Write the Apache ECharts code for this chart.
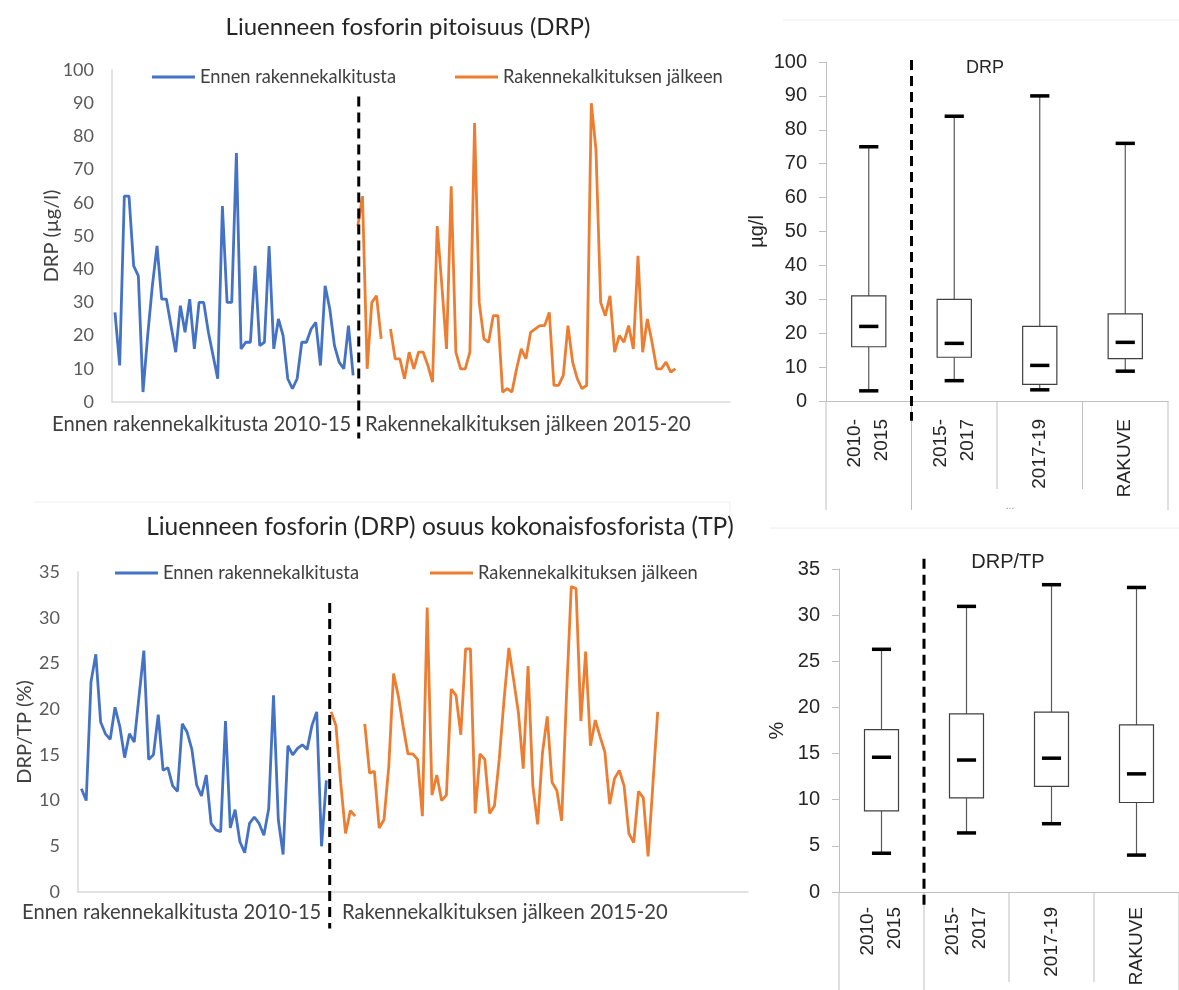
<!DOCTYPE html>
<html><head><meta charset="utf-8">
<script src="https://cdn.jsdelivr.net/npm/echarts@6/dist/echarts.min.js"></script>
<style>html,body{margin:0;padding:0;background:#fff}#c{width:1179px;height:990px}</style>
</head><body><div id="c"></div>
<script>
// ---- Data ----
const drpBefore = [27,11,62,62,41,38,3,20,35,47, 31,31,23,15,29,21,31,16,30,30, 21,14,7,59,30,30,75,16,18,18, 41,17,18,47,16,25,20,7,4,7, 18,18,22,24,11,35,28,17,12,10, 23,8];
const drpAfter = [53,62,10,30,32,19,null, 22,13,13,7,15,10,15,15,11,6, 53,35,16,65,15,10,10,15,84,30, 19,18,26,26,3,4,3,10,16,13, 21,22,23,23,27,5,5,8,23,12, 7,4,5,90,76,30,26,32,15,20, 18,23,16,44,15,25,18,10,10,12, 9,10];
const ratioBefore = [11.3,10.0,23.0,26.0,18.6,17.3,16.7,20.2,18.1,14.7, 17.3,16.4,21.4,26.4,14.5,15.0,19.4,13.3,13.6,11.6, 11.0,18.4,17.5,15.6,11.7,10.5,12.8,7.5,6.8,6.6, 18.7,7.0,9.0,5.5,4.3,7.5,8.2,7.5,6.2,9.1, 21.5,7.9,4.1,16.0,15.0,15.7,16.1,15.6,18.2,19.7, 5.0,12.2];
const ratioAfter = [19.7,18.2,11.9,6.4,8.9,8.3,null, 18.4,13.0,13.2,7.0,7.9,13.7,23.9,21.4,18.1,15.1, 15.1,14.5,8.3,31.1,10.6,12.8,10.0,10.6,22.2,21.5, 17.2,26.6,26.6,8.6,15.1,14.5,8.6,9.4,14.5,21.0, 26.7,23.2,19.6,13.5,24.7,11.6,7.4,15.2,19.2,12.0, 11.1,7.8,21.4,33.4,33.2,18.7,26.3,16.0,18.8,17.0, 15.3,9.6,12.4,13.3,11.6,6.4,5.4,11.0,10.3,3.9, 11.8,19.7];

const boxCategories = ['2010-\n2015','2015-\n2017','2017-19','RAKUVE'];
const drpMin = [3, 6, 3.3, 8.8];
const drpQ1  = [16, 12.9, 4.9, 12.5];
const drpMed = [22, 17, 10.5, 17.3];
const drpQ3  = [31, 30, 22, 25.7];
const drpMax = [75, 84, 90, 76];
const ratioMin = [4.2, 6.4, 7.4, 4.0];
const ratioQ1  = [8.8, 10.2, 11.45, 9.7];
const ratioMed = [14.6, 14.3, 14.5, 12.8];
const ratioQ3  = [17.6, 19.3, 19.5, 18.1];
const ratioMax = [26.3, 30.95, 33.3, 33.0];

const nameBefore = 'Ennen rakennekalkitusta';
const nameAfter = 'Rakennekalkituksen jälkeen';
const periodBefore = 'Ennen rakennekalkitusta 2010-15';
const periodAfter = 'Rakennekalkituksen jälkeen 2015-20';
const breakIndexTop = 52.2;     // start of the after-period (sample index)
const breakIndexBottom = 51.7;
const breakBox = 1;             // box category index after which period changes

// ---- helpers ----
const BLUE = '#4472C4', ORANGE = '#ED7D31';
const LEFT_FONT = 'Lato', RIGHT_FONT = 'Liberation Sans';
const toPairs = (vals, offset) => vals.map((v, i) => [i + offset, v]);

function dashRenderer(params, api) {
  const p1 = api.coord([api.value(0), api.value(1)]);
  const p2 = api.coord([api.value(0), api.value(2)]);
  return {type: 'line', shape: {x1: p1[0], y1: p1[1], x2: p2[0], y2: p2[1]},
    style: {stroke: '#000', lineWidth: 3, lineDash: [10, 6]}};
}

function boxRenderer(params, api) {
  const i = api.value(0);
  const band = api.size([1, 0])[0];
  const bw = band * 0.4, cw = band * 0.225;
  const P = k => api.coord([i, api.value(k)]);
  const x = P(1)[0];
  const yMin = P(1)[1], yQ1 = P(2)[1], yMed = P(3)[1], yQ3 = P(4)[1], yMax = P(5)[1];
  const thin = {stroke: '#595959', lineWidth: 1.2};
  const thick = {stroke: '#000', lineWidth: 3.5};
  const hl = (y) => ({type: 'line', shape: {x1: x - cw / 2, y1: y, x2: x + cw / 2, y2: y}, style: thick});
  return {type: 'group', children: [
    {type: 'line', shape: {x1: x, y1: yMax, x2: x, y2: yQ3}, style: thin},
    {type: 'line', shape: {x1: x, y1: yQ1, x2: x, y2: yMin}, style: thin},
    {type: 'rect', shape: {x: x - bw / 2, y: yQ3, width: bw, height: yQ1 - yQ3},
      style: {fill: '#fff', stroke: '#404040', lineWidth: 1.2}},
    hl(yMax), hl(yMin), hl(yMed)
  ]};
}

function separatorRenderer(longLen, shortLen, dashTop, dashBottom) {
  return function (params, api) {
    const i = api.value(0);
    const n = boxCategories.length;
    const band = api.size([1, 0])[0];
    const c = api.coord([i, 0]);
    const children = [];
    const addSep = (k, x) => {
      const len = (k === 0 || k === breakBox || k === n) ? longLen : shortLen;
      children.push({type: 'line', shape: {x1: x, y1: c[1], x2: x, y2: c[1] + len},
        style: {stroke: '#bfbfbf', lineWidth: 1}});
    };
    addSep(i, c[0] - band / 2);
    if (i === n - 1) addSep(n, c[0] + band / 2);
    if (i === breakBox) {
      const xb = c[0] - band / 2;
      const t = api.coord([i, dashTop]), b = api.coord([i, dashBottom]);
      children.push({type: 'line', shape: {x1: xb, y1: t[1], x2: xb, y2: b[1]},
        style: {stroke: '#000', lineWidth: 3, lineDash: [10, 6]}});
    }
    return {type: 'group', children};
  };
}

const boxData = (mn, q1, md, q3, mx) => mn.map((v, i) => [i, mn[i], q1[i], md[i], q3[i], mx[i]]);

const lineAxisY = (max, interval, name, gap) => ({
  min: 0, max, interval, name, nameLocation: 'middle', nameGap: gap, nameRotate: 90, nameMoveOverlap: false,
  nameTextStyle: {fontFamily: LEFT_FONT, fontSize: 20, color: '#404040'},
  axisLine: {show: true, onZero: false, lineStyle: {color: '#d9d9d9', width: 1.5}},
  axisTick: {show: false}, splitLine: {show: false},
  axisLabel: {fontFamily: LEFT_FONT, fontSize: 18, color: '#595959', margin: 18}
});
const lineAxisX = (min, max) => ({
  type: 'value', min, max, axisLine: {show: true, onZero: false, lineStyle: {color: '#d9d9d9', width: 1.5}},
  axisTick: {show: false}, axisLabel: {show: false}, splitLine: {show: false}
});
const boxAxisY = (max, interval, name, gap) => ({
  min: 0, max, interval, name, nameLocation: 'middle', nameGap: gap, nameRotate: 90, nameMoveOverlap: false,
  nameTextStyle: {fontFamily: RIGHT_FONT, fontSize: 20, color: '#262626'},
  axisLine: {show: true, lineStyle: {color: '#bfbfbf', width: 1}},
  axisTick: {show: true, length: 7, lineStyle: {color: '#bfbfbf'}}, splitLine: {show: false},
  axisLabel: {fontFamily: RIGHT_FONT, fontSize: 20, color: '#262626', margin: 19}
});
const boxAxisX = (margin) => ({
  type: 'category', data: boxCategories,
  axisLine: {show: true, lineStyle: {color: '#bfbfbf', width: 1}},
  axisTick: {show: false}, splitLine: {show: false},
  axisLabel: {rotate: 90, interval: 0, fontFamily: RIGHT_FONT, fontSize: 19, lineHeight: 27, color: '#262626', margin}
});

const legendBase = (data, left, top) => ({
  data: [{name: data, icon: 'rect'}], left, top, padding: 0, itemWidth: 43, itemHeight: 3, itemGap: 0, selectedMode: false,
  textStyle: {fontFamily: LEFT_FONT, fontSize: 18.3, color: '#404040'}
});

const txt = (text, x, y, size, font, color, align) => ({
  type: 'text', x, y, silent: true,
  style: {text, fontSize: size, fontFamily: font, fill: color, align: align || 'left', verticalAlign: 'middle'}
});
const faint = (x1, y1, x2, y2) => ({type: 'line', silent: true, shape: {x1, y1, x2, y2}, style: {stroke: '#eeeeee', lineWidth: 1}});

const option = {
  backgroundColor: '#fff',
  animation: false,
  grid: [
    {left: 112, top: 70, width: 618, height: 332},
    {left: 78, top: 572, width: 670, height: 320},
    {left: 826, top: 62, width: 342, height: 339},
    {left: 839, top: 569, width: 350, height: 323}
  ],
  xAxis: [
    Object.assign({gridIndex: 0}, lineAxisX(-0.64, 131.7)),
    Object.assign({gridIndex: 1}, lineAxisX(-0.71, 138.8)),
    Object.assign({gridIndex: 2}, boxAxisX(18)),
    Object.assign({gridIndex: 3}, boxAxisX(15))
  ],
  yAxis: [
    Object.assign({gridIndex: 0}, lineAxisY(100, 10, 'DRP (µg/l)', 50)),
    Object.assign({gridIndex: 1}, lineAxisY(35, 5, 'DRP/TP (%)', 43)),
    Object.assign({gridIndex: 2}, boxAxisY(100, 10, 'µg/l', 59)),
    Object.assign({gridIndex: 3}, boxAxisY(35, 5, '%', 52))
  ],
  legend: [
    legendBase(nameBefore, 152, 68),
    legendBase(nameAfter, 455, 68),
    legendBase(nameBefore, 115, 564),
    legendBase(nameAfter, 430, 564)
  ],
  series: [
    {name: nameBefore, type: 'line', xAxisIndex: 0, yAxisIndex: 0, data: toPairs(drpBefore, 0),
      symbol: 'none', lineStyle: {color: BLUE, width: 2.8}, itemStyle: {color: BLUE}},
    {name: nameAfter, type: 'line', xAxisIndex: 0, yAxisIndex: 0, data: toPairs(drpAfter, drpBefore.length),
      symbol: 'none', lineStyle: {color: ORANGE, width: 2.8}, itemStyle: {color: ORANGE}},
    {name: nameBefore, type: 'line', xAxisIndex: 1, yAxisIndex: 1, data: toPairs(ratioBefore, 0),
      symbol: 'none', lineStyle: {color: BLUE, width: 2.8}, itemStyle: {color: BLUE}},
    {name: nameAfter, type: 'line', xAxisIndex: 1, yAxisIndex: 1, data: toPairs(ratioAfter, ratioBefore.length),
      symbol: 'none', lineStyle: {color: ORANGE, width: 2.8}, itemStyle: {color: ORANGE}},
    {type: 'custom', xAxisIndex: 0, yAxisIndex: 0, clip: false, z: 5, renderItem: dashRenderer,
      encode: {x: 0, y: [1, 2]}, data: [[breakIndexTop, 92, -11]]},
    {type: 'custom', xAxisIndex: 1, yAxisIndex: 1, clip: false, z: 5, renderItem: dashRenderer,
      encode: {x: 0, y: [1, 2]}, data: [[breakIndexBottom, 31.6, -4]]},
    {type: 'custom', xAxisIndex: 2, yAxisIndex: 2, clip: false, renderItem: separatorRenderer(109, 88, 100.6, -5.8),
      encode: {x: 0}, data: boxCategories.map((c, i) => [i])},
    {type: 'custom', xAxisIndex: 3, yAxisIndex: 3, clip: false, renderItem: separatorRenderer(98, 90, 36.1, -1.7),
      encode: {x: 0}, data: boxCategories.map((c, i) => [i])},
    {type: 'custom', xAxisIndex: 2, yAxisIndex: 2, clip: false, z: 4, renderItem: boxRenderer,
      encode: {x: 0, y: [1, 2, 3, 4, 5]}, data: boxData(drpMin, drpQ1, drpMed, drpQ3, drpMax)},
    {type: 'custom', xAxisIndex: 3, yAxisIndex: 3, clip: false, z: 4, renderItem: boxRenderer,
      encode: {x: 0, y: [1, 2, 3, 4, 5]}, data: boxData(ratioMin, ratioQ1, ratioMed, ratioQ3, ratioMax)}
  ],
  graphic: [
    faint(783, 20, 1179, 20), faint(770, 528, 1179, 528), faint(34, 502, 730, 502), faint(730, 502, 730, 543),
    txt('Liuenneen fosforin pitoisuus (DRP)', 408, 27, 24, LEFT_FONT, '#262626', 'center'),
    txt('Liuenneen fosforin (DRP) osuus kokonaisfosforista (TP)', 440, 527, 24.5, LEFT_FONT, '#262626', 'center'),
    txt(periodBefore, 52, 424, 20.2, LEFT_FONT, '#404040'),
    txt(periodAfter, 365, 424, 20.2, LEFT_FONT, '#404040'),
    txt(periodBefore, 22, 912, 20.2, LEFT_FONT, '#404040'),
    txt(periodAfter, 342, 912, 20.2, LEFT_FONT, '#404040'),
    txt('DRP', 985, 68, 18, RIGHT_FONT, '#262626', 'center'),
    txt('DRP/TP', 1008, 562, 20, RIGHT_FONT, '#262626', 'center'),
    txt('...', 1010, 506, 10, RIGHT_FONT, '#888', 'center')
  ]
};

const chart = echarts.init(document.getElementById('c'), null, {renderer: 'canvas'});
chart.setOption(option);
</script>
</body></html>
